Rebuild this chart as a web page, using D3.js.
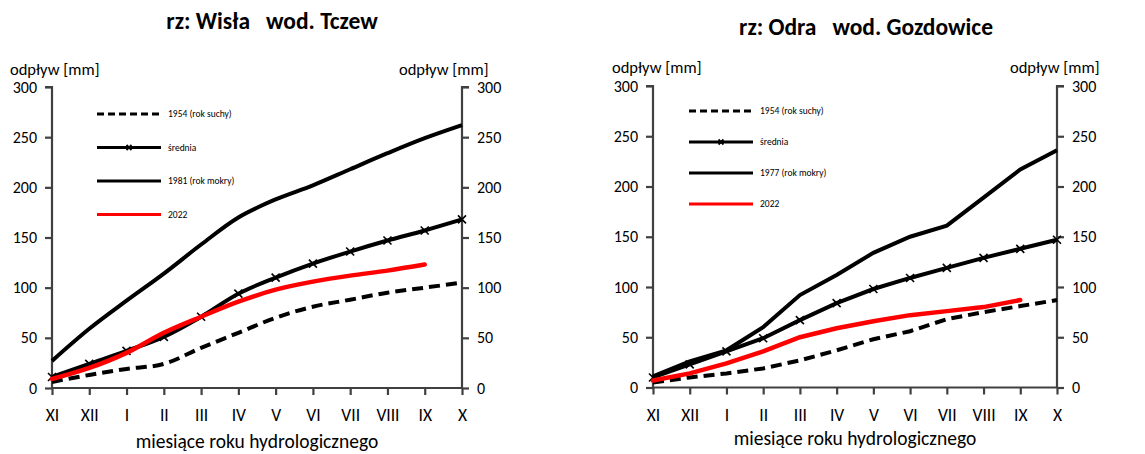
<!DOCTYPE html>
<html>
<head>
<meta charset="utf-8">
<script src="https://cdn.jsdelivr.net/npm/d3@7"></script>
<style>
  body { margin: 0; background: #fff; }
  text { font-family: Carlito, Lato, "Open Sans", sans-serif; }
</style>
</head>
<body>
<div id="viz"></div>
<script>
const months = ["XI", "XII", "I", "II", "III", "IV", "V", "VI", "VII", "VIII", "IX", "X"]
const yTicks = [0, 50, 100, 150, 200, 250, 300]

// Wisła - Tczew
const wislaDry = [6, 13, 19, 24, 40, 55, 70, 81, 88, 95, 100, 105]
const wislaMean = [11, 24, 37, 51, 71, 94, 110, 124, 136, 147, 157, 168]
const wislaWet = [27, 59, 87, 114, 143, 170, 188, 202, 218, 234, 249, 262]
const wisla2022 = [9, 20, 35, 55, 71, 86, 98, 106, 112, 117, 123]

// Odra - Gozdowice
const odraDry = [5, 10, 14, 19, 27, 37, 48, 56, 68, 75, 81, 87]
const odraMean = [10, 23, 36, 49, 67, 84, 98, 109, 119, 129, 138, 147]
const odraWet = [11, 26, 37, 60, 92, 112, 134, 150, 161, 189, 217, 236]
const odra2022 = [7, 14, 24, 36, 50, 59, 66, 72, 76, 80, 87]

const legendWisla = ["1954 (rok suchy)", "średnia", "1981 (rok mokry)", "2022"]
const legendOdra = ["1954 (rok suchy)", "średnia", "1977 (rok mokry)", "2022"]

const width = 1145
const height = 454
const axisColor = "#404040"

const svg = d3.select("#viz").append("svg")
  .attr("width", width)
  .attr("height", height)
  .style("background-color", "#fff")

function drawChart(cfg) {
  const g = svg.append("g")

  const x = d3.scalePoint().domain(months).range([cfg.x0, cfg.x1])
  const y = d3.scaleLinear().domain([0, 300]).range([cfg.y0, cfg.y300])

  // title
  g.append("text")
    .attr("x", cfg.titleX).attr("y", cfg.titleY)
    .attr("text-anchor", "middle")
    .style("font-size", "23.5px").style("font-weight", "bold")
    .text(cfg.title)

  g.append("text").attr("x", cfg.unitLX).attr("y", cfg.unitY)
    .style("font-size", "16.5px").text("odpływ [mm]")
  g.append("text").attr("x", cfg.unitRX).attr("y", cfg.unitY)
    .style("font-size", "16.5px").text("odpływ [mm]")

  // axes
  const left = g.append("g").attr("transform", `translate(${cfg.x0},0)`)
    .call(d3.axisLeft(y).tickValues(yTicks).tickSize(7).tickPadding(8))
  const right = g.append("g").attr("transform", `translate(${cfg.x1},0)`)
    .call(d3.axisRight(y).tickValues(yTicks).tickSize(7).tickPadding(8))
  const bottom = g.append("g").attr("transform", `translate(0,${cfg.y0})`)
    .call(d3.axisBottom(x).tickSize(7))

  ;[left, right, bottom].forEach(a => {
    a.select(".domain").attr("stroke", axisColor).attr("stroke-width", 2.2)
    a.selectAll(".tick line").attr("stroke", axisColor).attr("stroke-width", 2.2)
    a.selectAll("text").attr("fill", "#000").style("font-size", "16px")
      .style("font-family", "Carlito, Lato, sans-serif")
  })
  left.select(".domain").attr("d", `M-7,${y(300)}H0V${y(0)}`)
  right.select(".domain").attr("d", `M7,${y(300)}H0V${y(0)}`)
  bottom.select(".domain").attr("d", `M${cfg.x0},0H${cfg.x1}`)
  bottom.selectAll("text").style("font-size", "17.5px").attr("y", 33).attr("dy", 0)

  g.append("text")
    .attr("x", (cfg.x0 + cfg.x1) / 2).attr("y", cfg.xTitleY)
    .attr("text-anchor", "middle")
    .style("font-size", "19.5px")
    .text("miesiące roku hydrologicznego")

  const line = d3.line()
    .x((d, i) => x(months[i]))
    .y(d => y(d))
    .curve(cfg.curve)

  g.append("path").datum(cfg.dry)
    .attr("d", line).attr("fill", "none")
    .attr("stroke", "#000").attr("stroke-width", 4)
    .attr("stroke-dasharray", "11,6")

  g.append("path").datum(cfg.wet)
    .attr("d", line).attr("fill", "none")
    .attr("stroke", "#000").attr("stroke-width", 4)

  g.append("path").datum(cfg.mean)
    .attr("d", line).attr("fill", "none")
    .attr("stroke", "#000").attr("stroke-width", 4)

  g.selectAll(".mk").data(cfg.mean).enter().append("path")
    .attr("d", (d, i) => {
      const cx = x(months[i]), cy = y(d), s = 4
      return `M${cx - s},${cy - s}L${cx + s},${cy + s}M${cx - s},${cy + s}L${cx + s},${cy - s}`
    })
    .attr("stroke", "#000").attr("stroke-width", 1.6)

  g.append("path").datum(cfg.now)
    .attr("d", line).attr("fill", "none")
    .attr("stroke", "#ff0000").attr("stroke-width", 4.5)
    .attr("stroke-linecap", "round")

  // legend
  const lg = g.append("g")
  cfg.legend.forEach((name, i) => {
    const ly = cfg.legY + i * cfg.legStep
    const l = lg.append("line")
      .attr("x1", cfg.legX).attr("x2", cfg.legX + 64)
      .attr("y1", ly).attr("y2", ly)
      .attr("stroke", i == 3 ? "#ff0000" : "#000")
      .attr("stroke-width", 2.8)
    if (i == 0) l.attr("stroke-dasharray", "7,4")
    if (i == 1) {
      const cx = cfg.legX + 32, s = 2.5
      lg.append("path")
        .attr("d", `M${cx - s},${ly - s}L${cx + s},${ly + s}M${cx - s},${ly + s}L${cx + s},${ly - s}`)
        .attr("stroke", "#000").attr("stroke-width", 1.8)
    }
    lg.append("text")
      .attr("x", cfg.legX + 71).attr("y", ly)
      .attr("dy", "0.35em")
      .style("font-size", "9.5px")
      .text(name)
  })
}

drawChart({
  title: "rz: Wisła\u00a0\u00a0\u00a0wod. Tczew", titleX: 272, titleY: 29,
  x0: 52, x1: 462, y0: 388, y300: 87,
  unitLX: 10, unitRX: 399, unitY: 75, xTitleY: 448,
  dry: wislaDry, mean: wislaMean, wet: wislaWet, now: wisla2022,
  curve: d3.curveCatmullRom.alpha(0.5),
  legend: legendWisla, legX: 97, legY: 114, legStep: 33.5
})

drawChart({
  title: "rz: Odra\u00a0\u00a0\u00a0wod. Gozdowice", titleX: 866, titleY: 35,
  x0: 653, x1: 1057, y0: 387.5, y300: 86,
  unitLX: 612, unitRX: 1010, unitY: 73, xTitleY: 445,
  dry: odraDry, mean: odraMean, wet: odraWet, now: odra2022,
  curve: d3.curveLinear,
  legend: legendOdra, legX: 689, legY: 111, legStep: 31
})
</script>
</body>
</html>
